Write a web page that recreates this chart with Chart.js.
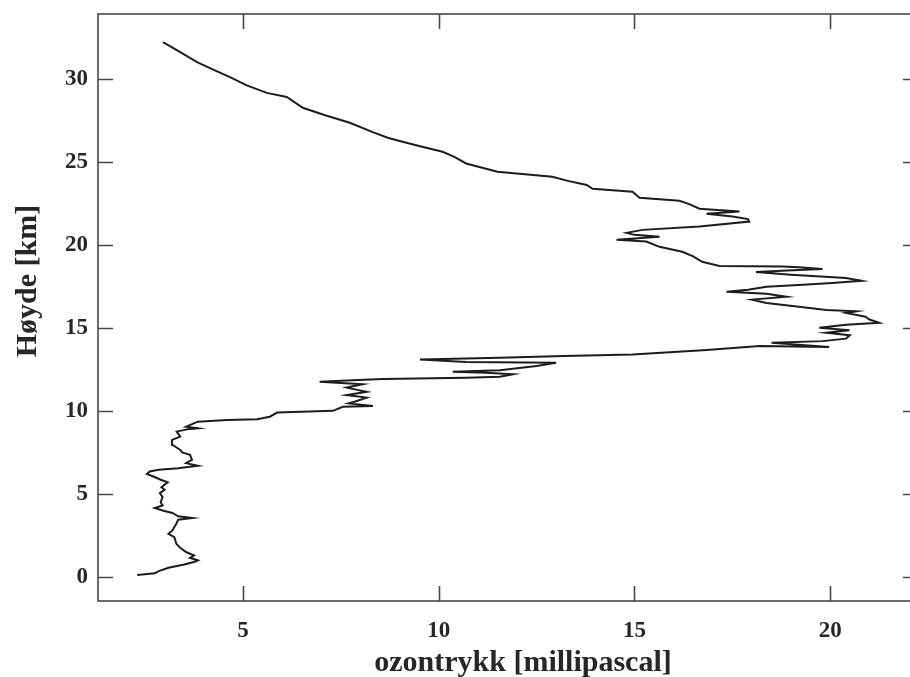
<!DOCTYPE html>
<html>
<head>
<meta charset="utf-8">
<title>Ozonprofil</title>
<script src="https://cdn.jsdelivr.net/npm/chart.js@4.4.1/dist/chart.umd.min.js"></script>
<style>
  html, body { margin: 0; padding: 0; background: #fff; overflow: hidden; }
  #wrap { width: 920px; height: 677px; }
</style>
</head>
<body>
<div id="wrap"><canvas id="ozoneChart" width="920" height="677"></canvas></div>
<script>
const altitude = [
  0.12, 0.22, 0.35, 0.55, 0.75, 0.90, 1.00, 1.15, 1.30, 1.50,
  1.75, 2.00, 2.40, 2.60, 2.80, 3.00, 3.20, 3.45, 3.55, 3.65,
  3.85, 4.00, 4.15, 4.30, 4.50, 4.80, 5.05, 5.25, 5.40, 5.70,
  5.85, 6.00, 6.20, 6.35, 6.45, 6.55, 6.70, 6.85, 7.05, 7.35,
  7.50, 7.65, 7.95, 8.25, 8.45, 8.75, 8.90, 8.95, 9.05, 9.20,
  9.35, 9.45, 9.50, 9.65, 9.90, 10.00, 10.25, 10.30, 10.45, 10.55,
  10.80, 10.95, 11.15, 11.40, 11.60, 11.70, 11.75, 11.85, 11.92, 12.00,
  12.05, 12.20, 12.30, 12.35, 12.45, 12.70, 12.90, 12.95, 13.10, 13.20,
  13.30, 13.40, 13.67, 13.90, 13.85, 14.10, 14.20, 14.35, 14.55, 14.70,
  14.85, 15.00, 15.18, 15.30, 15.50, 15.67, 15.90, 16.00, 16.08, 16.27,
  16.50, 16.70, 16.87, 17.05, 17.17, 17.30, 17.47, 17.60, 17.70, 17.83,
  18.00, 18.20, 18.37, 18.45, 18.55, 18.65, 18.70, 18.73, 18.98, 19.30,
  19.58, 19.88, 20.20, 20.30, 20.48, 20.60, 20.72, 20.90, 21.10, 21.40,
  21.55, 21.70, 21.87, 22.00, 22.17, 22.45, 22.65, 22.83, 23.20, 23.37,
  23.60, 23.85, 24.10, 24.40, 24.90, 25.30, 25.60, 25.95, 26.30, 26.45,
  26.80, 27.35, 27.80, 28.25, 28.90, 29.15, 29.60, 30.10, 30.60, 31.00,
  31.60, 32.20
];
const ozone = [
  2.30, 2.75, 2.85, 3.10, 3.50, 3.75, 3.85, 3.65, 3.75, 3.55,
  3.40, 3.30, 3.25, 3.10, 3.20, 3.25, 3.30, 3.35, 3.70, 3.35,
  3.20, 2.95, 2.75, 2.95, 2.90, 2.95, 2.88, 3.00, 2.92, 3.08,
  2.90, 2.76, 2.55, 2.62, 2.85, 3.35, 3.85, 3.55, 3.70, 3.65,
  3.45, 3.40, 3.21, 3.19, 3.40, 3.31, 3.60, 3.85, 3.55, 3.70,
  3.85, 4.60, 5.36, 5.69, 5.87, 7.30, 7.55, 8.32, 7.70, 7.85,
  8.16, 7.65, 8.16, 7.65, 8.06, 7.40, 6.96, 7.80, 8.57, 10.70,
  11.56, 11.90, 11.20, 10.36, 11.56, 12.50, 13.00, 10.70, 9.52, 11.56,
  13.20, 14.95, 16.84, 18.20, 19.97, 18.50, 19.80, 20.40, 20.50, 19.90,
  20.49, 19.72, 20.40, 21.25, 21.00, 20.90, 20.40, 20.66, 19.90, 19.20,
  18.37, 18.00, 18.88, 18.37, 17.35, 17.90, 18.37, 19.30, 20.05, 20.80,
  20.40, 19.00, 18.10, 18.90, 19.80, 19.20, 18.78, 17.17, 16.73, 16.50,
  16.22, 15.64, 15.30, 14.54, 15.64, 15.00, 14.80, 15.20, 16.66, 17.93,
  17.90, 17.50, 16.84, 17.68, 16.66, 16.40, 16.15, 15.13, 14.95, 13.93,
  13.78, 13.30, 12.90, 11.50, 10.70, 10.40, 10.10, 9.50, 8.93, 8.70,
  8.30, 7.73, 7.10, 6.53, 6.12, 5.61, 5.10, 4.67, 4.20, 3.83,
  3.40, 2.96
];
const xTicks = [5, 10, 15, 20];
const yTicks = [0, 5, 10, 15, 20, 25, 30];

const ink = '#262626';
const tickFont = { family: '"Liberation Serif", "DejaVu Serif", serif', size: 23, weight: 'bold' };

// box round the plot with the tick marks pointing inwards, plus the axis titles
const framePlugin = {
  id: 'frame',
  afterDraw(chart) {
    const { ctx, chartArea: a, scales: { x, y } } = chart;
    const len = 15;
    ctx.save();
    ctx.strokeStyle = '#474747';
    ctx.lineWidth = 1.6;
    ctx.strokeRect(a.left, a.top, a.right - a.left, a.bottom - a.top);
    ctx.beginPath();
    x.ticks.forEach(t => {
      const px = Math.round(x.getPixelForValue(t.value)) + 0.5;
      ctx.moveTo(px, a.bottom); ctx.lineTo(px, a.bottom - len);
      ctx.moveTo(px, a.top); ctx.lineTo(px, a.top + len);
    });
    y.ticks.forEach(t => {
      const py = Math.round(y.getPixelForValue(t.value)) + 0.5;
      ctx.moveTo(a.left, py); ctx.lineTo(a.left + len, py);
      ctx.moveTo(a.right, py); ctx.lineTo(a.right - len, py);
    });
    ctx.stroke();

    ctx.fillStyle = ink;
    ctx.font = 'bold 30px "Liberation Serif", "DejaVu Serif", serif';
    ctx.textAlign = 'center';
    ctx.textBaseline = 'alphabetic';
    ctx.fillText('ozontrykk [millipascal]', 523, 671);
    ctx.translate(36, 281);
    ctx.rotate(-Math.PI / 2);
    ctx.fillText('Høyde [km]', 0, 0);
    ctx.restore();
  }
};

new Chart(document.getElementById('ozoneChart').getContext('2d'), {
  type: 'scatter',
  data: {
    datasets: [{
      data: ozone.map((v, i) => ({ x: v, y: altitude[i] })),
      showLine: true,
      borderColor: '#1c1c1c',
      borderWidth: 2,
      pointRadius: 0,
      tension: 0
    }]
  },
  options: {
    responsive: false,
    animation: false,
    layout: { padding: { top: 14, right: 2, left: 0, bottom: 0 } },
    plugins: { legend: { display: false }, tooltip: { enabled: false } },
    scales: {
      x: {
        type: 'linear',
        min: 1.3,
        max: 22.24,
        afterBuildTicks: s => { s.ticks = xTicks.map(v => ({ value: v })); },
        afterFit: s => { s.height = 76; s.paddingLeft = 0; s.paddingRight = 0; },
        grid: { display: false, drawTicks: false },
        border: { display: false },
        ticks: { font: tickFont, color: ink, padding: 16, maxRotation: 0 }
      },
      y: {
        type: 'linear',
        min: -1.45,
        max: 33.9,
        afterBuildTicks: s => { s.ticks = yTicks.map(v => ({ value: v })); },
        afterFit: s => { s.width = 98; s.paddingTop = 0; s.paddingBottom = 0; },
        grid: { display: false, drawTicks: false },
        border: { display: false },
        ticks: { font: tickFont, color: ink, padding: 10 }
      }
    }
  },
  plugins: [framePlugin]
});
</script>
</body>
</html>
